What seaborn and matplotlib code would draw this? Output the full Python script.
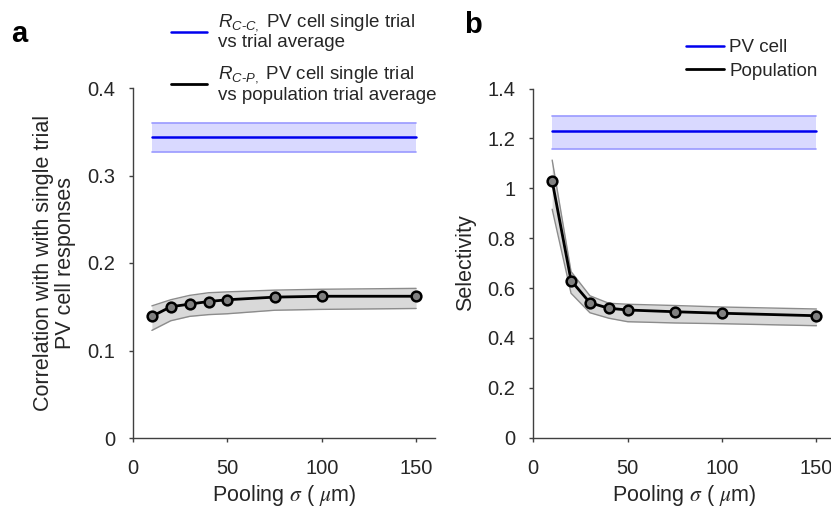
import matplotlib
matplotlib.use("Agg")
import matplotlib.pyplot as plt
from matplotlib.lines import Line2D
import seaborn as sns
import pandas as pd

# ---------------- data ----------------
sigma = [10, 20, 30, 40, 50, 75, 100, 150]

corr_pop = [0.139, 0.150, 0.153, 0.156, 0.158, 0.161, 0.162, 0.162]
corr_pop_lo = [0.123, 0.134, 0.139, 0.141, 0.142, 0.146, 0.147, 0.148]
corr_pop_hi = [0.151, 0.158, 0.163, 0.166, 0.167, 0.169, 0.170, 0.171]
corr_pv_x = [10, 150]
corr_pv = [0.344, 0.344]
corr_pv_lo = [0.327, 0.327]
corr_pv_hi = [0.360, 0.360]

sel_pop = [1.029, 0.630, 0.541, 0.519, 0.512, 0.505, 0.499, 0.489]
sel_pop_lo = [0.916, 0.579, 0.501, 0.479, 0.465, 0.460, 0.457, 0.449]
sel_pop_hi = [1.113, 0.666, 0.569, 0.539, 0.535, 0.530, 0.524, 0.516]
sel_pv_x = [10, 150]
sel_pv = [1.229, 1.229]
sel_pv_lo = [1.158, 1.158]
sel_pv_hi = [1.291, 1.291]

yticks_a = [0, 0.1, 0.2, 0.3, 0.4]
yticklabels_a = ["0", "0.1", "0.2", "0.3", "0.4"]
yticks_b = [0, 0.2, 0.4, 0.6, 0.8, 1.0, 1.2, 1.4]
yticklabels_b = ["0", "0.2", "0.4", "0.6", "0.8", "1", "1.2", "1.4"]
xticks = [0, 50, 100, 150]

legend_a = [r"$R_{C\text{-}C,}$ PV cell single trial" + "\nvs trial average",
            r"$R_{C\text{-}P,}$ PV cell single trial" + "\nvs population trial average"]
legend_b = ["PV cell", "Population"]

# ---------------- style ----------------
sns.set_theme(style="ticks")
plt.rcParams["font.family"] = ["Liberation Sans", "DejaVu Sans"]
plt.rcParams["mathtext.fontset"] = "custom"
plt.rcParams["mathtext.rm"] = "Liberation Sans"
plt.rcParams["mathtext.it"] = "Liberation Sans:italic"
plt.rcParams["mathtext.bf"] = "Liberation Sans:bold"

TXT = "#262626"
SPINE = "#404040"
BLUE = "#0000ee"
BAND_BLUE = "#d9d9ff"
EDGE_BLUE = "#9a9aff"
BAND_GRAY = "#d9d9d9"
EDGE_GRAY = "#8c8c8c"
TICK_FS = 14.5
LABEL_FS = 15.5

fig = plt.figure(figsize=(8.31, 5.09), dpi=100)
ax_a = fig.add_axes([133 / 831, 71 / 509, 302 / 831, 350 / 509])
ax_b = fig.add_axes([533.3 / 831, 71.3 / 509, 302 / 831, 349.2 / 509])


def style_axis(ax):
    sns.despine(ax=ax)
    for s in ["left", "bottom"]:
        ax.spines[s].set_color(SPINE)
        ax.spines[s].set_linewidth(1.0)
    ax.tick_params(direction="out", length=3, width=1.0, color=SPINE,
                   labelsize=TICK_FS, labelcolor=TXT)
    ax.tick_params(axis="y", pad=10)
    ax.tick_params(axis="x", pad=12)
    ax.set_xlim(0, 160)
    ax.set_xticks(xticks)
    ax.set_xticklabels([str(t) for t in xticks])
    xl = ax.set_xlabel(r"Pooling $\sigma$ ( $\mu$m)", fontsize=LABEL_FS, color=TXT,
                       labelpad=4)
    xl.set_math_fontfamily("stix")


def draw_panel(ax, pv_x, pv, pv_lo, pv_hi, pop, pop_lo, pop_hi):
    ax.fill_between(pv_x, pv_lo, pv_hi, color=BAND_BLUE, zorder=1, linewidth=0)
    sns.lineplot(x=pv_x, y=pv_lo, ax=ax, color=EDGE_BLUE, linewidth=1.2, zorder=2)
    sns.lineplot(x=pv_x, y=pv_hi, ax=ax, color=EDGE_BLUE, linewidth=1.2, zorder=2)
    sns.lineplot(x=pv_x, y=pv, ax=ax, color=BLUE, linewidth=1.8, zorder=3)

    ax.fill_between(sigma, pop_lo, pop_hi, color=BAND_GRAY, zorder=1, linewidth=0)
    sns.lineplot(x=sigma, y=pop_lo, ax=ax, color=EDGE_GRAY, linewidth=1.0, zorder=2)
    sns.lineplot(x=sigma, y=pop_hi, ax=ax, color=EDGE_GRAY, linewidth=1.0, zorder=2)
    df = pd.DataFrame({"sigma": sigma, "val": pop})
    sns.lineplot(data=df, x="sigma", y="val", ax=ax, color="black", linewidth=2.0,
                 marker="o", markersize=7, markerfacecolor="#808080",
                 markeredgecolor="black", markeredgewidth=1.8, zorder=4)


# panel a
draw_panel(ax_a, corr_pv_x, corr_pv, corr_pv_lo, corr_pv_hi,
           corr_pop, corr_pop_lo, corr_pop_hi)
style_axis(ax_a)
ax_a.set_ylim(0, 0.4)
ax_a.set_yticks(yticks_a)
ax_a.set_yticklabels(yticklabels_a)
ax_a.set_ylabel("Correlation with with single trial\nPV cell responses",
                fontsize=LABEL_FS, color=TXT, labelpad=8, linespacing=1.05)

# panel b
draw_panel(ax_b, sel_pv_x, sel_pv, sel_pv_lo, sel_pv_hi,
           sel_pop, sel_pop_lo, sel_pop_hi)
style_axis(ax_b)
ax_b.set_ylim(0, 1.4)
ax_b.set_yticks(yticks_b)
ax_b.set_yticklabels(yticklabels_b)
ax_b.set_ylabel("Selectivity", fontsize=LABEL_FS, color=TXT, labelpad=8)

# legends
handles = [Line2D([], [], color=BLUE, linewidth=1.8),
           Line2D([], [], color="black", linewidth=2.0)]
leg_a = fig.legend(handles, legend_a, loc="upper left",
                   bbox_to_anchor=(171 / 831, 1 - 12 / 509),
                   bbox_transform=fig.transFigure, frameon=False, fontsize=13.5,
                   handlelength=1.9, handletextpad=0.6, labelspacing=0.7,
                   borderpad=0, borderaxespad=0)
for t in leg_a.get_texts():
    t.set_color(TXT)
    t.set_linespacing(1.1)

leg_b = fig.legend(handles, legend_b, loc="upper left",
                   bbox_to_anchor=(686 / 831, 1 - 39 / 509),
                   bbox_transform=fig.transFigure, frameon=False, fontsize=13.5,
                   handlelength=2.0, handletextpad=0.3, labelspacing=0.35,
                   borderpad=0, borderaxespad=0)
for t in leg_b.get_texts():
    t.set_color(TXT)

# panel letters
fig.text(11 / 831, 1 - 42 / 509, "a", fontsize=21, fontweight="bold", color="black")
fig.text(464 / 831, 1 - 33 / 509, "b", fontsize=21, fontweight="bold", color="black")

fig.savefig("out.png", dpi=100)
